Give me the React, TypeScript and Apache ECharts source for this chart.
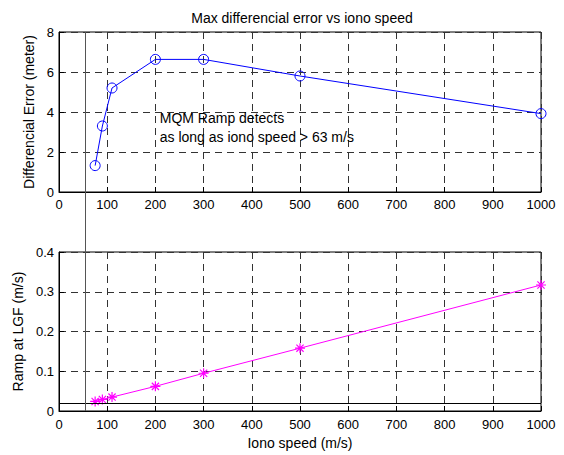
import React, { useEffect, useRef } from "react";
import * as echarts from "echarts";

const ionoSpeed = [75, 90, 110, 200, 300, 500, 1000];
const diffError = [1.32, 3.3, 5.2, 6.63, 6.63, 5.8, 3.92];
const rampLGF = [0.024, 0.029, 0.035, 0.062, 0.095, 0.158, 0.317];
const thresholdSpeed = 54;
const thresholdRamp = 0.02;
const titleText = "Max differencial error vs iono speed";
const noteText = "MQM Ramp detects\nas long as iono speed > 63 m/s";
const noteAt = [209, 4.17];

const FONT = "'Liberation Sans', Arial, Helvetica, sans-serif";

export default function App() {
  const ref = useRef<HTMLDivElement>(null);
  useEffect(() => {
    if (!ref.current) return;
    const chart = echarts.init(ref.current, undefined, { renderer: "svg" });
    const axisCommon = {
      axisLine: { show: true, lineStyle: { color: "#000", width: 1 } },
      axisTick: { show: true, inside: true, length: 5, lineStyle: { color: "#000" } },
      axisLabel: { color: "#000", fontSize: 13, fontFamily: FONT },
      splitLine: { show: true, lineStyle: { color: "#333", type: [7, 5], width: 1 } },
      nameTextStyle: { color: "#000", fontSize: 14, fontFamily: FONT },
    };
    const gridTop = { left: 59, right: 23, top: 32, height: 160 };
    const gridBot = { left: 59, right: 23, top: 252, height: 159 };
    const star = "path://M0,-5L0,5M-5,0L5,0M-3.6,-3.6L3.6,3.6M-3.6,3.6L3.6,-3.6";
    const fmt = (v: number) => String(v);
    chart.setOption({
      animation: false,
      backgroundColor: "#fff",
      title: {
        text: titleText,
        left: 297,
        textAlign: "center",
        top: 6,
        textStyle: { fontSize: 14, fontWeight: "normal", color: "#000", fontFamily: FONT },
      },
      grid: [
        { ...gridTop, show: true, borderColor: "#000", borderWidth: 1, backgroundColor: "transparent" },
        { ...gridBot, show: true, borderColor: "#000", borderWidth: 1, backgroundColor: "transparent" },
      ],
      xAxis: [
        {
          ...axisCommon, type: "value", gridIndex: 0, min: 0, max: 1000, interval: 100,
          axisLabel: { ...axisCommon.axisLabel, margin: 6, formatter: fmt },
        },
        {
          ...axisCommon, type: "value", gridIndex: 1, min: 0, max: 1000, interval: 100,
          axisLabel: { ...axisCommon.axisLabel, margin: 7, formatter: fmt },
          name: "Iono speed (m/s)", nameLocation: "middle", nameGap: 25,
        },
      ],
      yAxis: [
        {
          ...axisCommon, type: "value", gridIndex: 0, min: 0, max: 8, interval: 2,
          axisLabel: { ...axisCommon.axisLabel, margin: 5, formatter: fmt },
          name: "Differencial Error (meter)", nameLocation: "middle", nameGap: 21,
        },
        {
          ...axisCommon, type: "value", gridIndex: 1, min: 0, max: 0.4, interval: 0.1,
          axisLabel: { ...axisCommon.axisLabel, margin: 5, formatter: fmt },
          name: "Ramp at LGF (m/s)", nameLocation: "middle", nameGap: 31,
        },
      ],
      series: [
        {
          type: "line",
          xAxisIndex: 0,
          yAxisIndex: 0,
          data: ionoSpeed.map((x, i) => [x, diffError[i]]),
          lineStyle: { color: "#0000ff", width: 1 },
          symbol: "circle",
          symbolSize: 10,
          showAllSymbol: true,
          itemStyle: { color: "rgba(0,0,0,0)", borderColor: "#0000ff", borderWidth: 1 },
          emphasis: { disabled: true },
        },
        {
          type: "line",
          xAxisIndex: 1,
          yAxisIndex: 1,
          data: ionoSpeed.map((x, i) => [x, rampLGF[i]]),
          lineStyle: { color: "#ff00ff", width: 1 },
          symbol: star,
          symbolSize: 10,
          showAllSymbol: true,
          itemStyle: { color: "#ff00ff", borderColor: "#ff00ff", borderWidth: 1.2 },
          emphasis: { disabled: true },
          markLine: {
            silent: true,
            symbol: ["none", "none"],
            label: { show: false },
            lineStyle: { color: "#000", type: "solid", width: 1 },
            data: [{ yAxis: thresholdRamp }],
          },
        },
      ],
    });
    const xvRaw = chart.convertToPixel({ xAxisIndex: 0 }, thresholdSpeed) as number;
    const xv = Math.round(xvRaw) + 0.5;
    const yTop = chart.convertToPixel({ yAxisIndex: 0 }, 8) as number;
    const yBot = chart.convertToPixel({ yAxisIndex: 1 }, 0) as number;
    const np = chart.convertToPixel({ gridIndex: 0 }, noteAt) as number[];
    chart.setOption({
      graphic: [
        {
          type: "line",
          shape: { x1: xv, y1: yTop, x2: xv, y2: yBot },
          style: { stroke: "#555", lineWidth: 1 },
          z: 10,
        },
        {
          type: "text",
          x: np[0],
          y: np[1],
          style: {
            text: noteText,
            fill: "#000",
            fontSize: 14,
            fontFamily: FONT,
            lineHeight: 19,
            verticalAlign: "top",
            align: "left",
          },
          z: 10,
        },
      ],
    });
    return () => chart.dispose();
  }, []);
  return <div ref={ref} style={{ width: 564, height: 455, position: "absolute", left: 0, top: 0 }} />;
}
